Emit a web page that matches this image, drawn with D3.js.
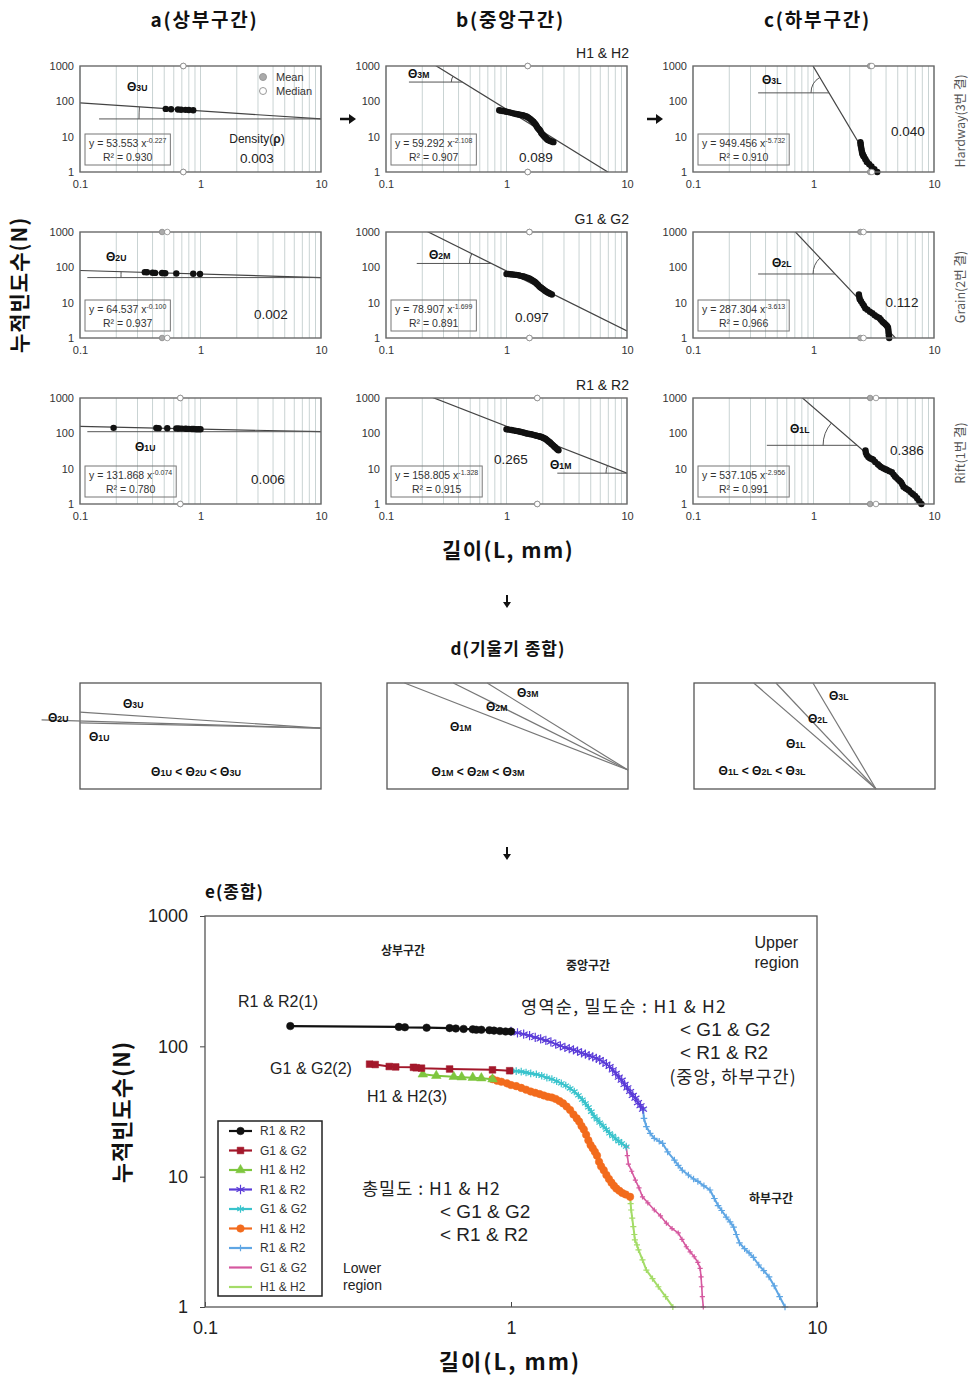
<!DOCTYPE html>
<html><head><meta charset="utf-8">
<script src="https://cdn.jsdelivr.net/npm/d3@7"></script>
<style>
body{margin:0;background:#fff;}
svg{display:block;}
</style></head><body>
<svg id="fig" width="968" height="1383"></svg>
<script>
// ---------- data ----------
const zoneTitles = ["a(상부구간)", "b(중앙구간)", "c(하부구간)"];
const rowGroups = ["H1 & H2", "G1 & G2", "R1 & R2"];
const rowGrain = ["Hardway(3번 결)", "Grain(2번 결)", "Rift(1번 결)"];
const thetaSubs = [["3U", "3M", "3L"], ["2U", "2M", "2L"], ["1U", "1M", "1L"]];
const xTicks = [0.1, 1, 10];
const yTicks = [1, 10, 100, 1000];

// cumulative number N against trace length L (mm), per group and region
const rUpper = [[0.19,143],[0.43,141],[0.45,140],[0.53,139],[0.63,138],[0.66,137],[0.70,136],[0.75,135],[0.77,134],[0.80,134],[0.85,133],[0.88,132],[0.92,131],[0.96,130],[1.00,130]];
const gUpper = [[0.345,73],[0.36,72.5],[0.40,70],[0.42,69.5],[0.48,69],[0.49,68.5],[0.51,68],[0.63,67],[0.87,66],[0.99,65]];
const hUpper = [[0.515,61],[0.57,59.5],[0.65,58.5],[0.69,58],[0.75,57.5],[0.80,57],[0.87,56]];
const rMiddle = [[1.00,130],[1.05,127],[1.10,124],[1.15,121],[1.20,117],[1.25,114],[1.30,111],[1.35,108],[1.40,104],[1.45,101],[1.50,98],[1.55,96],[1.60,94],[1.65,92],[1.70,89],[1.75,87],[1.80,85],[1.85,83],[1.90,81],[1.95,79],[2.00,76],[2.05,73],[2.10,70],[2.15,66],[2.20,62],[2.25,58],[2.30,55],[2.35,51],[2.40,48],[2.45,45],[2.50,42],[2.55,40],[2.60,37],[2.65,35],[2.70,33]];
const gMiddle = [[1.00,65],[1.04,64.5],[1.08,64],[1.12,63],[1.16,62],[1.21,61],[1.26,59.5],[1.31,57.5],[1.36,56],[1.41,54],[1.46,52],[1.51,50],[1.56,47.5],[1.61,45],[1.66,42],[1.71,39],[1.75,36.5],[1.79,34],[1.83,31.5],[1.87,29],[1.91,27.5],[1.95,26],[2.00,24.5],[2.05,23],[2.10,21.5],[2.15,20.5],[2.20,19.5],[2.25,18.7],[2.30,18],[2.38,17]];
const hMiddle = [[0.87,56],[0.90,54.5],[0.93,53.5],[0.97,52],[1.00,50.5],[1.04,49.5],[1.08,48],[1.12,46.5],[1.16,45],[1.20,44],[1.24,43],[1.28,42],[1.32,41],[1.36,40.5],[1.40,39.5],[1.44,38],[1.48,36.5],[1.52,34.5],[1.56,32.5],[1.60,30],[1.64,28],[1.67,26.5],[1.70,24.5],[1.73,23],[1.76,21],[1.79,19],[1.82,17.5],[1.85,16.5],[1.88,15.5],[1.91,14.5],[1.94,13],[1.97,12],[2.01,11.2],[2.05,10.3],[2.09,9.6],[2.13,9.0],[2.17,8.5],[2.21,8.1],[2.26,7.8],[2.31,7.5],[2.37,7.3],[2.45,7.0]];
const rLower = [[2.70,33],[2.72,28],[2.77,24.2],[2.85,21.5],[2.94,19.7],[3.05,18.7],[3.13,18.0],[3.25,15.5],[3.42,13.4],[3.52,12.2],[3.63,11.2],[3.80,10.3],[3.95,9.6],[4.08,9.2],[4.27,8.5],[4.47,7.9],[4.62,6.8],[4.75,6.0],[4.88,5.5],[5.05,4.9],[5.20,4.5],[5.34,4.1],[5.45,3.6],[5.58,3.1],[5.80,2.8],[6.00,2.6],[6.20,2.4],[6.45,2.1],[6.70,1.9],[6.97,1.7],[7.25,1.45],[7.55,1.2],[7.86,1.0]];
const gLower = [[2.38,17],[2.40,14.5],[2.42,12.5],[2.48,11],[2.55,9.4],[2.62,8.2],[2.69,7.0],[2.80,6.3],[2.94,5.55],[3.08,5.0],[3.22,4.4],[3.36,4.0],[3.52,3.7],[3.62,3.3],[3.74,2.9],[3.85,2.65],[3.97,2.43],[4.08,2.2],[4.15,1.98],[4.18,1.7],[4.20,1.43],[4.22,1.2],[4.25,1.0]];
const hLower = [[2.45,7.0],[2.46,6.2],[2.47,5.55],[2.49,4.8],[2.51,4.14],[2.53,3.6],[2.54,3.27],[2.58,3.0],[2.61,2.74],[2.69,2.3],[2.77,1.92],[2.90,1.65],[3.03,1.43],[3.20,1.2],[3.38,1.0]];

// power-law fits N = a * L^b  (rows: H, G, R; columns: upper, middle, lower)
const fitA = [[53.553, 59.292, 949.456], [64.537, 78.907, 287.304], [131.868, 158.805, 537.105]];
const fitB = [[-0.227, -2.108, -5.732], [-0.100, -1.699, -3.613], [-0.074, -1.328, -2.956]];
const fitR2 = [["0.930", "0.907", "0.910"], ["0.937", "0.891", "0.966"], ["0.780", "0.915", "0.991"]];
const densities = [["0.003", "0.089", "0.040"], ["0.002", "0.097", "0.112"], ["0.006", "0.265", "0.386"]];
const meanL = [[0.72, 1.50, 2.95], [0.48, 1.55, 2.45], [0.68, 1.80, 2.95]];
const medianL = [[0.72, 1.50, 3.05], [0.53, 1.55, 2.60], [0.68, 1.80, 3.30]];

const panelData = [[hUpper, hMiddle, hLower], [gUpper, gMiddle, gLower], [rUpper, rMiddle, rLower]];

// ---------- layout ----------
const FONT = '"Liberation Sans", Arial, sans-serif';
const KFONT = '"Noto Sans CJK KR", "Noto Sans", sans-serif';
const colX = [80, 386, 693], rowY = [66, 232, 398], PW = 241, PH = 106;

// angle annotation: vertex x, left end of reference line, arc radius, label offset
const angleLayout = [
  [{xv: 10, xh: 0.144, r: 182, lx: 47, ly: 25}, {xv: 0.43, xh: 0.155, r: 11, lx: 22, ly: 12}, {xv: 1.345, xh: 0.347, r: 18, lx: 69, ly: 18}],
  [{xv: 10, xh: 0.115, r: 200, lx: 26, ly: 29}, {xv: 0.75, xh: 0.18, r: 22, lx: 43, ly: 27}, {xv: 1.51, xh: 0.347, r: 22, lx: 79, ly: 35}],
  [{xv: 10, xh: 0.115, r: 0, lx: 55, ly: 53}, {xv: 10, xh: 2.64, r: 21, lx: 164, ly: 71}, {xv: 2.30, xh: 0.41, r: 34, lx: 97, ly: 35}]
];
const densityPos = [[[257, 163], [536, 162], [908, 136]], [[271, 319], [532, 322], [902, 307]], [[268, 484], [511, 464], [907, 455]]];

const svg = d3.select("#fig");
svg.append("rect").attr("width", 968).attr("height", 1383).attr("fill", "#fff");

function thetaLabel(g, x, y, sub, size, anchor) {
  const t = g.append("text").attr("x", x).attr("y", y)
    .attr("font-family", FONT).attr("font-weight", "bold")
    .attr("font-size", size).attr("fill", "#111")
    .attr("text-anchor", anchor || "start");
  t.append("tspan").text("Θ");
  t.append("tspan").attr("font-size", size * 0.72).text(sub);
  return t;
}

// ---------- titles ----------
zoneTitles.forEach((t, c) => {
  svg.append("text").attr("x", colX[c] + PW / 2 + 4).attr("y", 27)
    .attr("text-anchor", "middle").attr("font-family", KFONT)
    .attr("font-weight", "bold").attr("font-size", 19).attr("letter-spacing", 1.8)
    .attr("fill", "#111").text(t);
});

// ---------- small panels ----------
rowGroups.forEach((grp, r) => {
  [0, 1, 2].forEach(c => {
    const x0 = colX[c], y0 = rowY[r];
    const xs = d3.scaleLog().domain([0.1, 10]).range([x0, x0 + PW]);
    const ys = d3.scaleLog().domain([1, 1000]).range([y0 + PH, y0]);
    const g = svg.append("g");
    const clipId = `clip-${r}-${c}`;
    g.append("clipPath").attr("id", clipId).append("rect")
      .attr("x", x0).attr("y", y0).attr("width", PW).attr("height", PH);

    // vertical grid lines at every log tick
    g.selectAll("line.grid").data(xs.ticks()).join("line")
      .attr("x1", d => xs(d)).attr("x2", d => xs(d))
      .attr("y1", y0).attr("y2", y0 + PH)
      .attr("stroke", "#c9d3d3").attr("stroke-width", 1);

    // axes labels
    const ya = g.append("g").attr("transform", `translate(${x0},0)`)
      .call(d3.axisLeft(ys).tickValues(yTicks).tickSize(0).tickPadding(6).tickFormat(d3.format("d")));
    const xa = g.append("g").attr("transform", `translate(0,${y0 + PH})`)
      .call(d3.axisBottom(xs).tickValues(xTicks).tickSize(0).tickPadding(8).tickFormat(d => d));
    [ya, xa].forEach(a => {
      a.select(".domain").remove();
      a.selectAll("text").attr("font-family", FONT).attr("font-size", 11).attr("fill", "#333");
    });

    // fitted power law
    const a = fitA[r][c], b = fitB[r][c];
    const f = x => a * Math.pow(x, b);
    g.append("path").attr("clip-path", `url(#${clipId})`)
      .attr("d", d3.line().x(d => xs(d)).y(d => ys(f(d)))([0.1, 10]))
      .attr("fill", "none").attr("stroke", "#444").attr("stroke-width", 1.2);

    // angle reference line + arc
    const L = angleLayout[r][c];
    const vx = xs(L.xv), vy = ys(f(L.xv));
    g.append("line").attr("x1", xs(L.xh)).attr("x2", vx).attr("y1", vy).attr("y2", vy)
      .attr("stroke", "#555").attr("stroke-width", 1);
    if (L.r > 0) {
      const ang = Math.atan2(ys(f(L.xv / 2)) - vy, vx - xs(L.xv / 2)); // negative: up-left
      const t = -ang;
      const ex = vx - L.r * Math.cos(t), ey = vy - L.r * Math.sin(t);
      g.append("path").attr("d", `M${vx - L.r},${vy} A${L.r},${L.r} 0 0 1 ${ex},${ey}`)
        .attr("fill", "none").attr("stroke", "#555").attr("stroke-width", 1);
    }
    thetaLabel(g, x0 + L.lx, y0 + L.ly, thetaSubs[r][c], 12);

    // data points
    g.selectAll("circle.pt").data(panelData[r][c]).join("circle")
      .attr("cx", d => xs(d[0])).attr("cy", d => ys(d[1])).attr("r", 3.2)
      .attr("fill", "#111");

    // border
    g.append("rect").attr("x", x0).attr("y", y0).attr("width", PW).attr("height", PH)
      .attr("fill", "none").attr("stroke", "#6a6a6a").attr("stroke-width", 1.4);

    // mean / median markers on top and bottom edges
    [1000, 1].forEach(yy => {
      g.append("circle").attr("cx", xs(meanL[r][c])).attr("cy", ys(yy)).attr("r", 2.8)
        .attr("fill", "#aaa").attr("stroke", "#888").attr("stroke-width", 0.8);
      g.append("circle").attr("cx", xs(medianL[r][c])).attr("cy", ys(yy)).attr("r", 2.8)
        .attr("fill", "#fff").attr("stroke", "#888").attr("stroke-width", 0.8);
    });

    // equation box
    const eq = g.append("text").attr("x", x0 + 9).attr("y", y0 + PH - 25)
      .attr("font-family", FONT).attr("font-size", 10.5).attr("fill", "#333");
    eq.append("tspan").text(`y = ${a.toFixed(3)} x`);
    eq.append("tspan").attr("dy", -4).attr("font-size", 7).text(b.toFixed(3));
    const w = eq.node().getComputedTextLength();
    g.append("text").attr("x", x0 + 5 + (w + 8) / 2).attr("y", y0 + PH - 11)
      .attr("text-anchor", "middle").attr("font-family", FONT).attr("font-size", 10.5)
      .attr("fill", "#333").text(`R² = ${fitR2[r][c]}`);
    g.append("rect").attr("x", x0 + 5).attr("y", y0 + PH - 38).attr("width", w + 8).attr("height", 31)
      .attr("fill", "none").attr("stroke", "#777").attr("stroke-width", 1);

    // density value
    const dp = densityPos[r][c];
    g.append("text").attr("x", dp[0]).attr("y", dp[1]).attr("text-anchor", "middle")
      .attr("font-family", FONT).attr("font-size", 13.5).attr("fill", "#222").text(densities[r][c]);
  });

  // group name above the middle panel
  svg.append("text").attr("x", colX[1] + PW + 2).attr("y", rowY[r] - 8)
    .attr("text-anchor", "end").attr("font-family", FONT).attr("font-size", 14)
    .attr("fill", "#222").text(grp);

  // grain direction label at the right
  svg.append("text").attr("transform", `translate(965,${rowY[r] + PH / 2 + 2}) rotate(-90)`)
    .attr("text-anchor", "middle").attr("font-family", KFONT).attr("font-size", 12.5)
    .attr("fill", "#555").text(rowGrain[r]);
});

// legend of mean / median
svg.append("circle").attr("cx", 263).attr("cy", 77).attr("r", 3.5).attr("fill", "#aaa").attr("stroke", "#999");
svg.append("circle").attr("cx", 263).attr("cy", 91).attr("r", 3.5).attr("fill", "#fff").attr("stroke", "#999");
svg.append("text").attr("x", 276).attr("y", 81).attr("font-family", FONT).attr("font-size", 11).attr("fill", "#333").text("Mean");
svg.append("text").attr("x", 276).attr("y", 95).attr("font-family", FONT).attr("font-size", 11).attr("fill", "#333").text("Median");
const dens = svg.append("text").attr("x", 257).attr("y", 143).attr("text-anchor", "middle")
  .attr("font-family", FONT).attr("font-size", 12).attr("fill", "#222");
dens.append("tspan").text("Density(");
dens.append("tspan").attr("font-weight", "bold").text("ρ");
dens.append("tspan").text(")");

// arrows between columns
function arrowRight(x, y) {
  svg.append("path").attr("d", `M${x - 8},${y} L${x + 2},${y}`).attr("stroke", "#111").attr("stroke-width", 2.5);
  svg.append("path").attr("d", `M${x + 1},${y - 5} L${x + 8},${y} L${x + 1},${y + 5} Z`).attr("fill", "#111");
}
function arrowDown(x, y) {
  svg.append("path").attr("d", `M${x},${y - 7} L${x},${y + 2}`).attr("stroke", "#111").attr("stroke-width", 2);
  svg.append("path").attr("d", `M${x - 4},${y} L${x},${y + 6} L${x + 4},${y} Z`).attr("fill", "#111");
}
arrowRight(348, 119);
arrowRight(655, 119);
arrowDown(507, 602);
arrowDown(507, 854);

// shared axis titles of the small panels
svg.append("text").attr("transform", "translate(27,285) rotate(-90)").attr("text-anchor", "middle")
  .attr("font-family", KFONT).attr("font-weight", "bold").attr("font-size", 21).attr("letter-spacing", 1)
  .attr("fill", "#111").text("누적빈도수(N)");
svg.append("text").attr("x", 508).attr("y", 558).attr("text-anchor", "middle")
  .attr("font-family", KFONT).attr("font-weight", "bold").attr("font-size", 21).attr("letter-spacing", 1.5)
  .attr("fill", "#111").text("길이(L, mm)");

// ---------- d: slope comparison ----------
svg.append("text").attr("x", 508).attr("y", 655).attr("text-anchor", "middle")
  .attr("font-family", KFONT).attr("font-weight", "bold").attr("font-size", 17).attr("letter-spacing", 1)
  .attr("fill", "#111").text("d(기울기 종합)");

const dBoxX = [80, 387, 694], dBoxY = 683;
const dVertex = [[10, 53], [10, 3.44], [3.24, 1]];
const dStartX = [[0.1, 0.1, 0.1], [0.048, 0.1, 0.1], [0.1, 0.1, 0.1]]; // [row][col]
const dLabels = [
  [[123, 708], [517, 697], [829, 700]],
  [[48, 722], [486, 711], [808, 723]],
  [[89, 741], [450, 731], [786, 748]]
];
const dIneq = [[196, 776], [478, 776], [762, 775]];
[0, 1, 2].forEach(c => {
  const x0 = dBoxX[c];
  const xs = d3.scaleLog().domain([0.1, 10]).range([x0, x0 + PW]);
  const ys = d3.scaleLog().domain([1, 1000]).range([dBoxY + PH, dBoxY]);
  const g = svg.append("g");
  g.append("rect").attr("x", x0).attr("y", dBoxY).attr("width", PW).attr("height", PH)
    .attr("fill", "none").attr("stroke", "#555").attr("stroke-width", 1.3);
  const [xv, yv] = dVertex[c];
  [0, 1, 2].forEach(r => {
    const b = fitB[r][c];
    const f = x => yv * Math.pow(x / xv, b);
    const xTop = xv * Math.pow(1000 / yv, 1 / b);
    const xs0 = Math.max(dStartX[r][c], xTop);
    g.append("path").attr("d", d3.line().x(d => xs(d)).y(d => ys(f(d)))([xs0, xv]))
      .attr("fill", "none").attr("stroke", "#777").attr("stroke-width", 1.2);
    thetaLabel(g, dLabels[r][c][0], dLabels[r][c][1], thetaSubs[r][c], 12);
  });
  const iq = g.append("text").attr("x", dIneq[c][0]).attr("y", dIneq[c][1]).attr("text-anchor", "middle")
    .attr("font-family", FONT).attr("font-weight", "bold").attr("font-size", 12).attr("fill", "#111");
  const subs = [thetaSubs[2][c], thetaSubs[1][c], thetaSubs[0][c]];
  subs.forEach((s, i) => {
    iq.append("tspan").text((i ? " < " : "") + "Θ");
    iq.append("tspan").attr("font-size", 9).text(s);
  });
});

// ---------- e: combined plot ----------
const eX = d3.scaleLog().domain([0.1, 10]).range([205, 817]);
const eY = d3.scaleLog().domain([1, 1000]).range([1307, 916]);
const eg = svg.append("g");

eg.append("text").attr("x", 205).attr("y", 898).attr("font-family", KFONT).attr("font-weight", "bold")
  .attr("font-size", 17).attr("letter-spacing", 1).attr("fill", "#111").text("e(종합)");

const eyAxis = eg.append("g").attr("transform", "translate(205,0)")
  .call(d3.axisLeft(eY).tickValues(yTicks).tickSize(5).tickPadding(12).tickFormat(d3.format("d")));
const exAxis = eg.append("g").attr("transform", "translate(0,1307)")
  .call(d3.axisBottom(eX).tickValues(xTicks).tickSize(-5).tickPadding(14).tickFormat(d => d));
[eyAxis, exAxis].forEach(a => {
  a.select(".domain").remove();
  a.selectAll("line").attr("stroke", "#444");
  a.selectAll("text").attr("font-family", FONT).attr("font-size", 18).attr("fill", "#222");
});

const sym = (type, size) => d3.symbol().type(type).size(size);
const eSeries = [
  {name: "R1 & R2", data: rUpper, color: "#111111", w: 2.2, shape: sym(d3.symbolCircle, 45), fill: true},
  {name: "G1 & G2", data: gUpper, color: "#a3182b", w: 2, shape: sym(d3.symbolSquare, 45), fill: true},
  {name: "H1 & H2", data: hUpper, color: "#7ec63e", w: 2, shape: sym(d3.symbolTriangle, 40), fill: true},
  {name: "R1 & R2", data: rMiddle, color: "#5a3bd8", w: 1.6, shape: sym(d3.symbolAsterisk, 60), fill: false},
  {name: "G1 & G2", data: gMiddle, color: "#39c3cc", w: 2, shape: sym(d3.symbolAsterisk, 40), fill: false},
  {name: "H1 & H2", data: hMiddle, color: "#f26b1d", w: 2, shape: sym(d3.symbolCircle, 45), fill: true},
  {name: "R1 & R2", data: rLower, color: "#5fa6e4", w: 2, shape: sym(d3.symbolPlus, 16), fill: false},
  {name: "G1 & G2", data: gLower, color: "#d5589f", w: 1.6, shape: sym(d3.symbolPlus, 10), fill: false},
  {name: "H1 & H2", data: hLower, color: "#a4dc68", w: 2, shape: sym(d3.symbolPlus, 14), fill: false}
];
const drawOrder = [8, 7, 6, 5, 4, 3, 2, 1, 0];
const eLine = d3.line().x(d => eX(d[0])).y(d => eY(d[1]));
drawOrder.forEach(i => {
  const s = eSeries[i];
  const sg = eg.append("g");
  sg.append("path").attr("d", eLine(s.data)).attr("fill", "none")
    .attr("stroke", s.color).attr("stroke-width", s.w).attr("stroke-linejoin", "round");
  sg.selectAll("path.m").data(s.data).join("path").attr("class", "m")
    .attr("transform", d => `translate(${eX(d[0])},${eY(d[1])})`)
    .attr("d", s.shape())
    .attr("fill", s.fill ? s.color : "none")
    .attr("stroke", s.color).attr("stroke-width", s.fill ? 0.5 : 1.2);
});

eg.append("rect").attr("x", 205).attr("y", 916).attr("width", 612).attr("height", 391)
  .attr("fill", "none").attr("stroke", "#555").attr("stroke-width", 1.3);

// legend
const lg = eg.append("g");
lg.append("rect").attr("x", 218).attr("y", 1121).attr("width", 104).attr("height", 175)
  .attr("fill", "#fff").attr("stroke", "#222").attr("stroke-width", 1.5);
eSeries.forEach((s, i) => {
  const y = 1131 + i * 19.5;
  lg.append("line").attr("x1", 229).attr("x2", 252).attr("y1", y).attr("y2", y)
    .attr("stroke", s.color).attr("stroke-width", 2.2);
  if (i < 7) {
    lg.append("path").attr("transform", `translate(240.5,${y})`).attr("d", s.shape())
      .attr("fill", s.fill ? s.color : "none").attr("stroke", s.color).attr("stroke-width", s.fill ? 0.5 : 1.2);
  }
  lg.append("text").attr("x", 260).attr("y", y + 4).attr("font-family", FONT).attr("font-size", 12)
    .attr("fill", "#333").text(s.name);
});

// annotations
const note = (x, y, txt, opts = {}) => eg.append("text").attr("x", x).attr("y", y)
  .attr("text-anchor", opts.anchor || "start").attr("font-family", opts.font || FONT)
  .attr("font-size", opts.size || 16).attr("font-weight", opts.bold ? "bold" : "normal")
  .attr("letter-spacing", opts.ls || 0).attr("fill", "#222").text(txt);

note(403, 955, "상부구간", {anchor: "middle", font: KFONT, size: 12, bold: true});
note(588, 970, "중앙구간", {anchor: "middle", font: KFONT, size: 12, bold: true});
note(771, 1203, "하부구간", {anchor: "middle", font: KFONT, size: 12, bold: true});
note(798, 948, "Upper", {anchor: "end", size: 16});
note(799, 968, "region", {anchor: "end", size: 16});
note(343, 1273, "Lower", {size: 14});
note(343, 1290, "region", {size: 14});
note(278, 1007, "R1 & R2(1)", {anchor: "middle", size: 16});
note(311, 1074, "G1 & G2(2)", {anchor: "middle", size: 16});
note(407, 1102, "H1 & H2(3)", {anchor: "middle", size: 16});
note(521, 1013, "영역순, 밀도순 : H1 & H2", {font: KFONT, size: 17.5, ls: 1.3});
note(680, 1036, "< G1 & G2", {size: 19});
note(680, 1059, "< R1 & R2", {size: 19});
note(733, 1083, "(중앙, 하부구간)", {anchor: "middle", font: KFONT, size: 17.5, ls: 1});
note(362, 1195, "총밀도 : H1 & H2", {font: KFONT, size: 17.5, ls: 1});
note(440, 1218, "< G1 & G2", {size: 19});
note(440, 1241, "< R1 & R2", {size: 19});

eg.append("text").attr("transform", "translate(130,1112) rotate(-90)").attr("text-anchor", "middle")
  .attr("font-family", KFONT).attr("font-weight", "bold").attr("font-size", 22).attr("letter-spacing", 1)
  .attr("fill", "#111").text("누적빈도수(N)");
eg.append("text").attr("x", 510).attr("y", 1370).attr("text-anchor", "middle")
  .attr("font-family", KFONT).attr("font-weight", "bold").attr("font-size", 22).attr("letter-spacing", 2)
  .attr("fill", "#111").text("길이(L, mm)");
</script>
</body></html>
